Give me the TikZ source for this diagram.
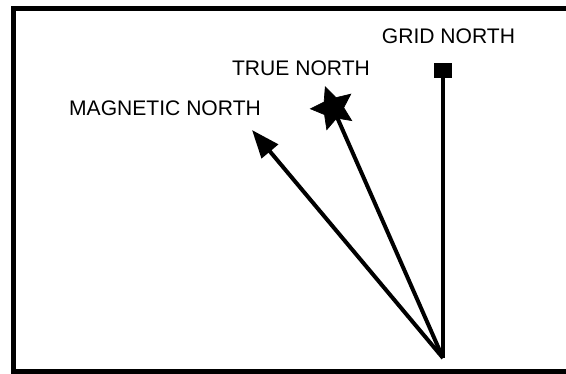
\documentclass[tikz,border=0pt]{standalone}
\usepackage{fontspec}
\setmainfont{Liberation Sans}
\usetikzlibrary{arrows.meta}
\usetikzlibrary{shapes.geometric}
\tikzset{
    label/.style={
        font=\fontsize{12}{14}\selectfont,
        inner sep=0pt
    },
    needle/.style={
        draw,
        line width=0.08cm
    }
}

\begin{document}
\begin{tikzpicture}[x=0.02cm, y=-0.02cm]
    \useasboundingbox (0,0) rectangle (566,373);

    % Frame
    \draw[line width=0.1cm] (566,8) -- (13.5,8) -- (13.5,371.5) -- (566,371.5);

    % Labels
    \node[label] (magtext) at (165,108) {MAGNETIC NORTH};
    \node[label] (truetext) at (301,68) {TRUE NORTH};
    \node[label] (gridtext) at (448.5,36) {GRID NORTH};

    % Symbols
    \coordinate (apex) at (443,358);
    \coordinate (mag) at (252,130);
    \node[star, star points=5, star point ratio=2.1, fill=black, draw,
          minimum size=0.9cm, inner sep=0pt, shape border rotate=20] (truestar) at (333,108) {};
    \node[rectangle, fill=black, minimum width=0.38cm, minimum height=0.3cm,
          inner sep=0pt] (gridbox) at (443,70) {};

    % Needles
    \draw[needle, -{Triangle[length=0.56cm, width=0.42cm]}] (apex) -- (mag);
    \draw[needle] (apex) -- (truestar.center);
    \draw[needle] (apex) -- (gridbox.center);
\end{tikzpicture}
\end{document}
